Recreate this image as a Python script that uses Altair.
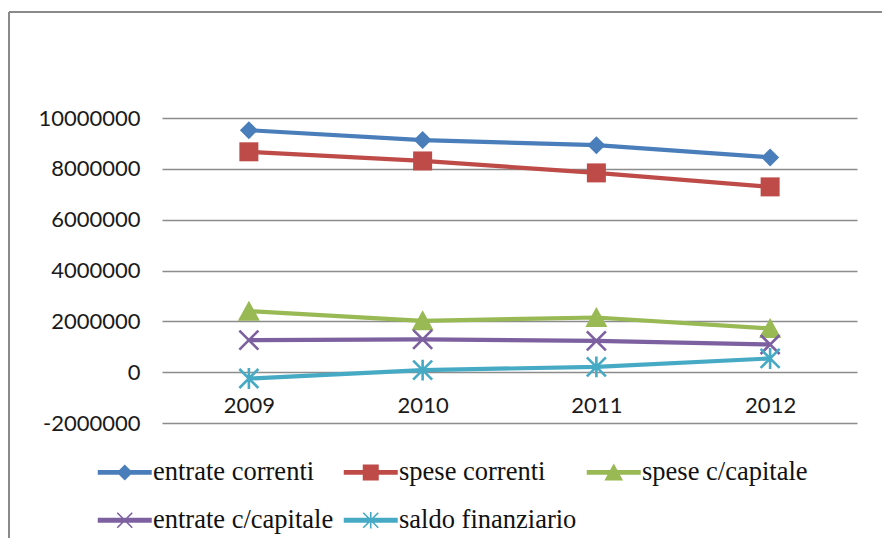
import math
import altair as alt
import pandas as pd

# ---------------- data ----------------
years = ["2009", "2010", "2011", "2012"]
series_names = ["entrate correnti", "spese correnti", "spese c/capitale",
                "entrate c/capitale", "saldo finanziario"]
entrate_correnti = [9520000, 9130000, 8930000, 8450000]
spese_correnti = [8670000, 8310000, 7840000, 7290000]
spese_c_capitale = [2400000, 2020000, 2150000, 1720000]
entrate_c_capitale = [1260000, 1290000, 1230000, 1090000]
saldo_finanziario = [-250000, 80000, 210000, 540000]
y_ticks = [-2000000, 0, 2000000, 4000000, 6000000, 8000000, 10000000]
colors = ["#4A7EBB", "#BE4B48", "#98B954", "#7D60A0", "#46AAC5"]
marker_kinds = ["diamond", "square", "triangle", "x", "star"]

all_values = [entrate_correnti, spese_correnti, spese_c_capitale,
              entrate_c_capitale, saldo_finanziario]
rows = []
for name, vals in zip(series_names, all_values):
    for yr, v in zip(years, vals):
        rows.append({"year": yr, "series": name, "value": v})
df = pd.DataFrame(rows)


# ---------------- marker paths ----------------
def poly(pts):
    n = len(pts)
    area = sum(pts[i][0] * pts[(i + 1) % n][1] - pts[(i + 1) % n][0] * pts[i][1]
               for i in range(n))
    if area < 0:
        pts = pts[::-1]
    return "M" + "L".join(f"{x:.3f},{y:.3f}" for x, y in pts) + "Z"


def bar(x1, y1, x2, y2, h):
    dx, dy = x2 - x1, y2 - y1
    L = math.hypot(dx, dy)
    nx, ny = -dy / L * h, dx / L * h
    return poly([(x1 + nx, y1 + ny), (x2 + nx, y2 + ny),
                 (x2 - nx, y2 - ny), (x1 - nx, y1 - ny)])


def marker(kind, s, h=0.12):
    if kind == "diamond":
        return poly([(0, -s), (s, 0), (0, s), (-s, 0)])
    if kind == "square":
        return poly([(-s, -s), (s, -s), (s, s), (-s, s)])
    if kind == "triangle":
        return poly([(0, -s * 1.05), (s * 1.1, s * 0.95), (-s * 1.1, s * 0.95)])
    xs = bar(-s, -s, s, s, h) + bar(-s, s, s, -s, h)
    if kind == "x":
        return xs
    return xs + bar(0, -s * 1.1, 0, s * 1.1, h)


point_sizes = {"diamond": 0.9, "square": 0.95, "triangle": 1.0, "x": 0.95, "star": 0.95}
chart_paths = [marker(k, point_sizes[k], 0.13) for k in marker_kinds]

legend_sizes = {"diamond": 0.8, "square": 0.8, "triangle": 0.85, "x": 0.75, "star": 0.75}
legend_paths = [bar(-2.7, 0, 2.7, 0, 0.24) + marker(k, legend_sizes[k], 0.08)
                for k in marker_kinds]

color_scale = alt.Scale(domain=series_names, range=colors)

legend = alt.Legend(
    title=None, orient="none", legendX=-67.5, legendY=341, columns=3,
    direction="horizontal",
    padding=0, labelFont="Liberation Serif", labelFontSize=26.5,
    labelColor="#111111", symbolSize=400, labelOffset=15, symbolOffset=17,
    symbolStrokeWidth=0, symbolOpacity=1,
    columnPadding=7, rowPadding=21, labelLimit=400,
)

x_enc = alt.X("year:O", scale=alt.Scale(type="point", padding=0.5),
              axis=alt.Axis(title=None, labelAngle=0, domain=False, ticks=False,
                            tickSize=0, grid=False, offset=-51, labelPadding=23,
                            labelFont="Lato", labelFontSize=22,
                            labelColor="#1a1a1a"))
y_enc = alt.Y("value:Q", scale=alt.Scale(domain=[-2000000, 10000000], nice=False,
                                         zero=False),
              axis=alt.Axis(title=None, values=y_ticks,
                            labelExpr="toString(datum.value)", domain=False,
                            ticks=False, tickSize=0, grid=True,
                            gridColor="#8c8c8c", gridWidth=1.5, labelPadding=22,
                            labelFont="Lato", labelFontSize=22,
                            labelColor="#1a1a1a"))

base = alt.Chart(df)
lines = base.mark_line(strokeWidth=4.2).encode(
    x=x_enc, y=y_enc,
    color=alt.Color("series:N", scale=color_scale),
)

point_layers = []
for name, path in zip(series_names, chart_paths):
    point_layers.append(
        base.transform_filter(alt.datum.series == name)
        .mark_point(shape=path, filled=True, opacity=1, size=400, strokeWidth=0)
        .encode(x=x_enc, y=y_enc, color=alt.Color("series:N", scale=color_scale))
    )

legend_layer = base.mark_point(filled=True, opacity=0, size=400).encode(
    x=x_enc, y=y_enc,
    color=alt.Color("series:N", scale=color_scale, legend=legend),
    shape=alt.Shape("series:N", scale=alt.Scale(domain=series_names, range=legend_paths),
                    legend=legend),
)

frame_df = pd.DataFrame({"a": [0]})
frame_top = alt.Chart(frame_df).mark_rule(color="#8a8a8a", strokeWidth=2).encode(
    x=alt.value(-153), x2=alt.value(720), y=alt.value(-106))
frame_left = alt.Chart(frame_df).mark_rule(color="#8a8a8a", strokeWidth=2).encode(
    x=alt.value(-153), y=alt.value(-106), y2=alt.value(430))

chart = alt.layer(frame_top, frame_left, lines, *point_layers, legend_layer).properties(
    width=695, height=305,
    autosize=alt.AutoSizeParams(type="none"),
    padding={"left": 154, "top": 110, "right": 25, "bottom": 115},
    background="white",
).configure_view(strokeWidth=0)

chart.save("out.html", embed_options={"renderer": "svg", "actions": False})
